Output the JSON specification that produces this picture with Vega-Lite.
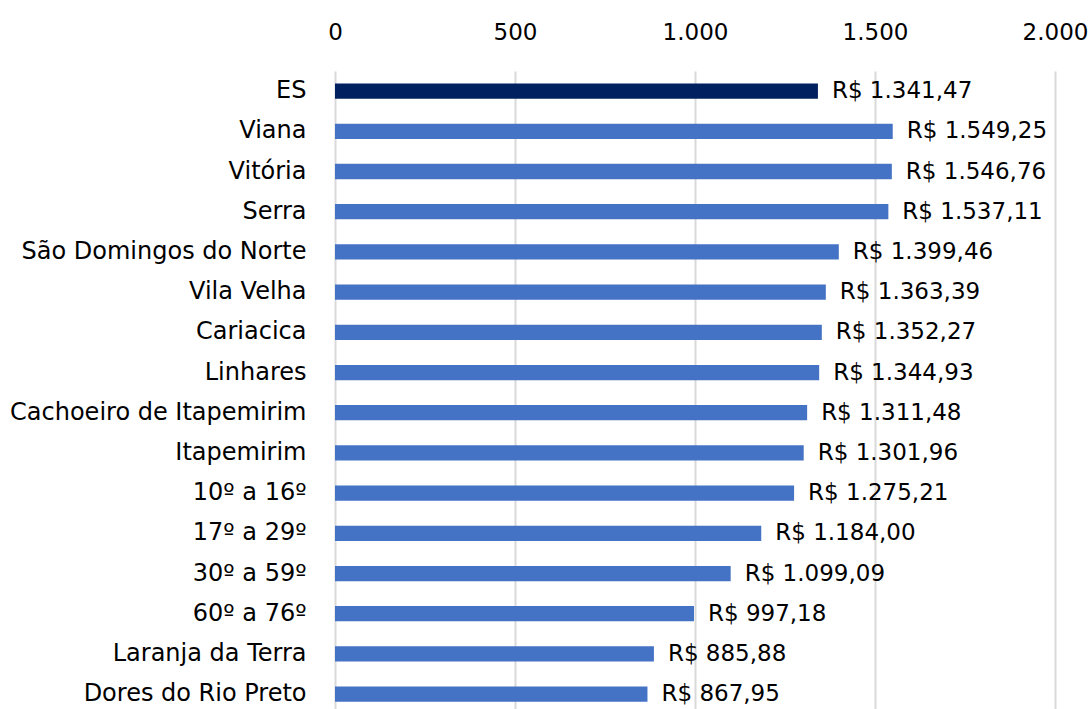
{
  "$schema": "https://vega.github.io/schema/vega-lite/v6.json",
  "width": 720,
  "height": 638,
  "autosize": "none",
  "padding": {"left": 335, "top": 71, "right": 34, "bottom": 0},
  "background": "white",
  "config": {
    "locale": {"number": {"decimal": ",", "thousands": ".", "grouping": [3], "currency": ["R$ ", ""]}},
    "view": {"stroke": null},
    "font": "DejaVu Sans"
  },
  "data": {"values": [
    {"name": "ES", "value": 1341.47},
    {"name": "Viana", "value": 1549.25},
    {"name": "Vitória", "value": 1546.76},
    {"name": "Serra", "value": 1537.11},
    {"name": "São Domingos do Norte", "value": 1399.46},
    {"name": "Vila Velha", "value": 1363.39},
    {"name": "Cariacica", "value": 1352.27},
    {"name": "Linhares", "value": 1344.93},
    {"name": "Cachoeiro de Itapemirim", "value": 1311.48},
    {"name": "Itapemirim", "value": 1301.96},
    {"name": "10º a 16º", "value": 1275.21},
    {"name": "17º a 29º", "value": 1184.00},
    {"name": "30º a 59º", "value": 1099.09},
    {"name": "60º a 76º", "value": 997.18},
    {"name": "Laranja da Terra", "value": 885.88},
    {"name": "Dores do Rio Preto", "value": 867.95}
  ]},
  "encoding": {
    "y": {
      "field": "name", "type": "nominal", "sort": null,
      "scale": {"paddingInner": 0.62, "paddingOuter": 0.245, "align": 0.633},
      "axis": {"title": null, "ticks": false, "domain": false, "labelPadding": 29, "labelFontSize": 24, "labelColor": "#000000", "labelFont": "DejaVu Sans", "labelLimit": 400}
    },
    "x": {
      "field": "value", "type": "quantitative",
      "scale": {"domain": [0, 2000], "nice": false},
      "axis": {"orient": "top", "title": null, "values": [0, 500, 1000, 1500, 2000], "format": ",d", "ticks": false, "domain": false, "labelPadding": 27, "labelFontSize": 23, "labelColor": "#000000", "labelFont": "DejaVu Sans", "gridColor": "#D9D9D9", "gridWidth": 2, "labelFlush": false}
    }
  },
  "layer": [
    {
      "mark": {"type": "bar"},
      "encoding": {
        "color": {"condition": {"test": "datum.name === 'ES'", "value": "#002060"}, "value": "#4472C4"}
      }
    },
    {
      "mark": {"type": "text", "align": "left", "baseline": "middle", "dx": 14, "fontSize": 23, "font": "DejaVu Sans", "color": "#000000"},
      "encoding": {"text": {"field": "value", "type": "quantitative", "format": "$,.2f"}}
    }
  ]
}
